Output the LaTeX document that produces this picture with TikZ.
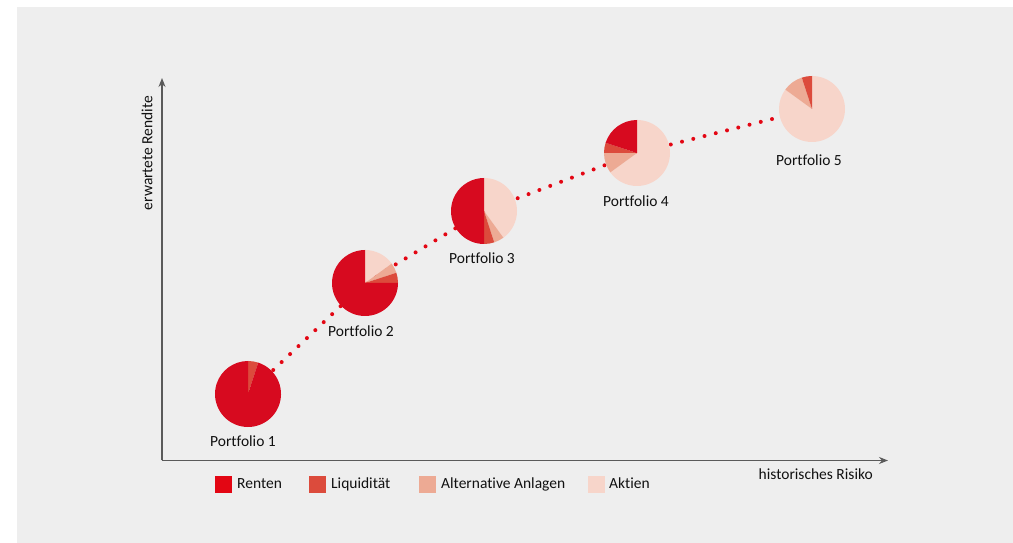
\documentclass[tikz,border=0pt]{standalone}
\usepackage{fontspec}
\setmainfont{Carlito}[Ligatures=NoCommon]
\usetikzlibrary{arrows.meta}
\definecolor{bgcol}{HTML}{EEEEEE}
\definecolor{renten}{HTML}{D70A1F}
\definecolor{legrenten}{HTML}{E30613}
\definecolor{liqu}{HTML}{DC4B3C}
\definecolor{alt}{HTML}{EDAA94}
\definecolor{aktien}{HTML}{F7D5CA}
\definecolor{axiscol}{HTML}{5A5A5A}
\definecolor{txt}{HTML}{111111}
\definecolor{dotred}{HTML}{E30613}
% slice: center, from %, to % (clockwise from top), colour
\newcommand{\pieslice}[4]{%
  \fill[#4] (#1) -- ++({90-3.6*#2}:33) arc[start angle={90-3.6*#2}, end angle={90-3.6*#3}, radius=33] -- cycle;}
\begin{document}
\begin{tikzpicture}[x=1pt,y=1pt,
  lbl/.style={font=\fontsize{15.5}{17}\selectfont, text=txt, inner sep=0pt},
  axis/.style={draw=axiscol, line width=1.3pt, -{Stealth[length=9pt,width=7pt]}},
  dotline/.style={draw=dotred, line width=4pt, line cap=round, dash pattern=on 0pt off 11.6pt},
  legsq/.style={minimum width=17pt, minimum height=17pt, inner sep=0pt, anchor=north west}]
\useasboundingbox (0,0) rectangle (1013,543);
\fill[white] (0,0) rectangle (1013,543);
\fill[bgcol] (17,0) rectangle (1013,536);

% pie centres
\coordinate (c1) at (248,149);
\coordinate (c2) at (365,260);
\coordinate (c3) at (484,332);
\coordinate (c4) at (637,390);
\coordinate (c5) at (812,434);

% axes
\coordinate (orig) at (162,82.5);
\coordinate (ytip) at (162,465);
\coordinate (xtip) at (888,82.5);
\draw[axis] (orig) -- (ytip);
\draw[axis] (orig) -- (xtip);
\node[lbl, rotate=90, anchor=center] (ylab) at (147,390) {erwartete Rendite};
\node[lbl, anchor=base east] (xlab) at (873,63) {historisches Risiko};

% dotted connection
\draw[dotline] (c1) -- (c2) -- (c3) -- (c4) -- (c5);

% Portfolio 1
\pieslice{c1}{0}{5}{liqu}
\pieslice{c1}{5}{100}{renten}
% Portfolio 2
\pieslice{c2}{0}{15}{aktien}
\pieslice{c2}{15}{20}{alt}
\pieslice{c2}{20}{25}{liqu}
\pieslice{c2}{25}{100}{renten}
% Portfolio 3
\pieslice{c3}{0}{40}{aktien}
\pieslice{c3}{40}{45}{alt}
\pieslice{c3}{45}{50}{liqu}
\pieslice{c3}{50}{100}{renten}
% Portfolio 4
\pieslice{c4}{0}{65}{aktien}
\pieslice{c4}{65}{75}{alt}
\pieslice{c4}{75}{80}{liqu}
\pieslice{c4}{80}{100}{renten}
% Portfolio 5
\pieslice{c5}{0}{85}{aktien}
\pieslice{c5}{85}{95}{alt}
\pieslice{c5}{95}{100}{liqu}

% labels
\node[lbl, anchor=base] (p1) at (243,96) {Portfolio 1};
\node[lbl, anchor=base] (p2) at (361,206) {Portfolio 2};
\node[lbl, anchor=base] (p3) at (482,279) {Portfolio 3};
\node[lbl, anchor=base] (p4) at (636,336) {Portfolio 4};
\node[lbl, anchor=base] (p5) at (809,377) {Portfolio 5};

% legend
\node[legsq, fill=legrenten] (s1) at (215,67) {};
\node[lbl, anchor=base west] (t1) at (237,54) {Renten};
\node[legsq, fill=liqu] (s2) at (309,67) {};
\node[lbl, anchor=base west] (t2) at (331,54) {Liquidität};
\node[legsq, fill=alt] (s3) at (419,67) {};
\node[lbl, anchor=base west] (t3) at (441,54) {Alternative Anlagen};
\node[legsq, fill=aktien] (s4) at (588,67) {};
\node[lbl, anchor=base west] (t4) at (609,54) {Aktien};
\end{tikzpicture}
\end{document}
